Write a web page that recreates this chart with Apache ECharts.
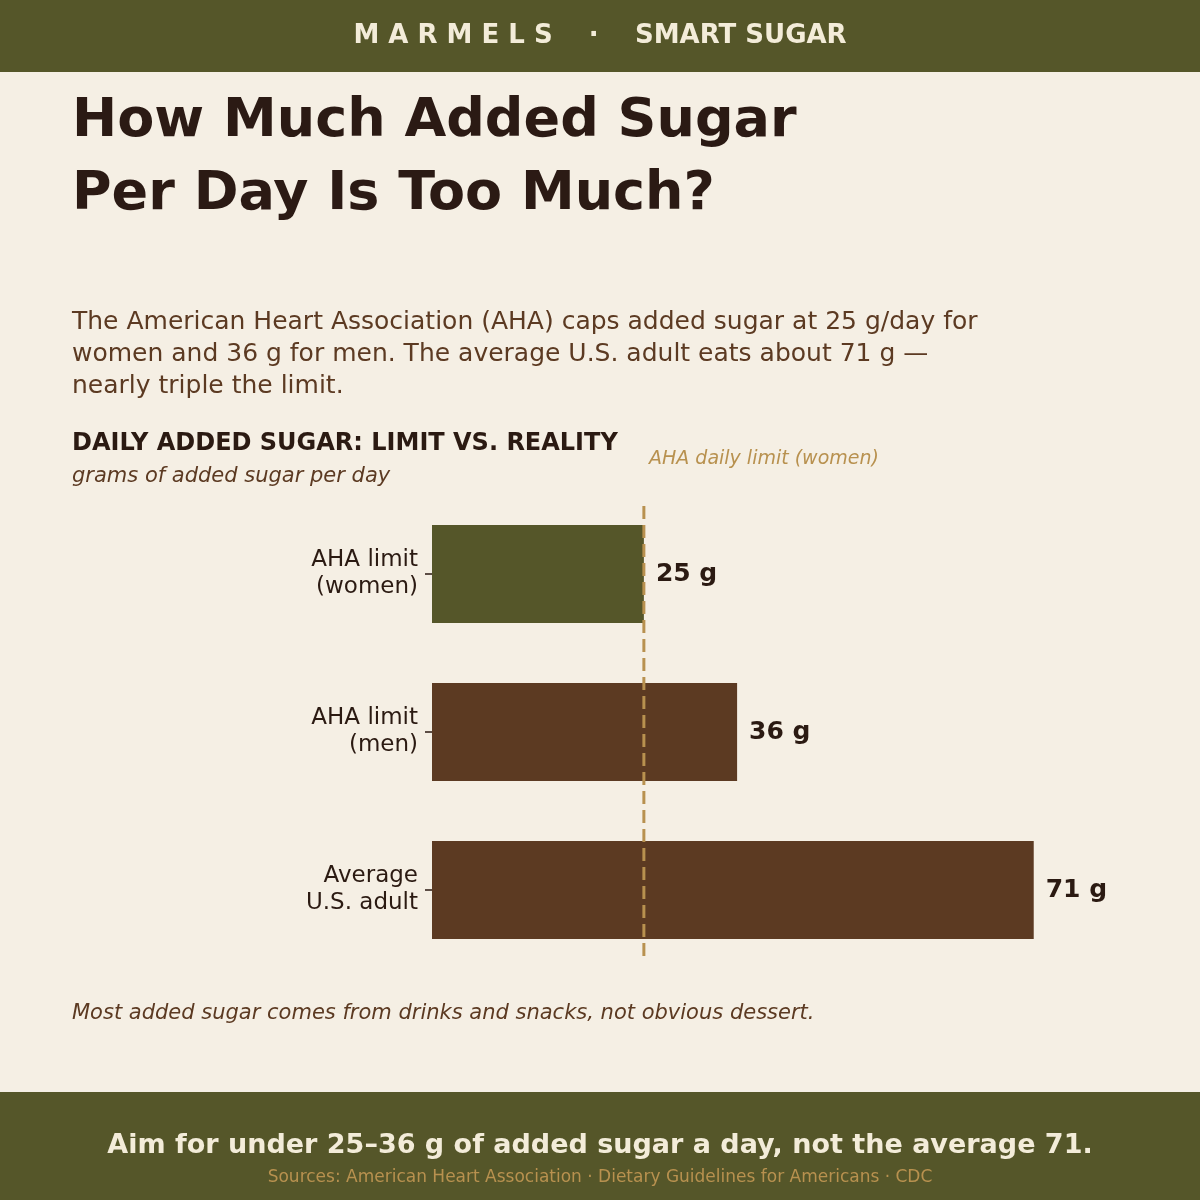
<!DOCTYPE html>
<html>
<head>
<meta charset="UTF-8">
<title>Added sugar</title>
<style>
  html, body { margin: 0; padding: 0; background: #f5efe4; }
  #main { width: 1200px; height: 1200px; }
</style>
</head>
<body>
<div id="main"></div>
<script src="https://cdn.jsdelivr.net/npm/echarts@6/dist/echarts.min.js"></script>
<script>
  var categories = ['AHA limit\n(women)', 'AHA limit\n(men)', 'Average\nU.S. adult'];
  var grams = [25, 36, 71];
  var barColors = ['#555629', '#5c3a22', '#5c3a22'];
  var limitWomen = 25;
  var limitSpan = [-0.43, 2.44];   // vertical extent of the dashed line, in category units

  var olive = '#555629', cream = '#f5efe4', ink = '#2b1a12', brown = '#5c3a22', gold = '#b8914f';
  var font = '"DejaVu Sans", sans-serif';

  var chart = echarts.init(document.getElementById('main'));

  var barData = [];
  for (var i = 0; i < grams.length; i++) {
    barData.push({ value: grams[i], itemStyle: { color: barColors[i] } });
  }

  var option = {
    backgroundColor: cream,
    animation: false,
    grid: { left: 432, right: 90, top: 495, height: 474 },
    xAxis: { type: 'value', min: 0, max: 80, show: false },
    yAxis: [{
      type: 'category',
      data: categories,
      inverse: true,
      axisLine: { show: false },
      axisTick: { show: true, length: 7, alignWithLabel: true, lineStyle: { color: ink, width: 1.5 } },
      axisLabel: { margin: 14, color: ink, fontSize: 23, fontFamily: font, lineHeight: 27, align: 'right' },
      splitLine: { show: false }
    }, {
      type: 'value', min: -0.5, max: 2.5, inverse: true, show: false
    }],
    series: [{
      type: 'bar',
      data: barData,
      barWidth: 98,
      label: {
        show: true, position: 'right', distance: 12,
        formatter: '{c} g', color: ink, fontSize: 25, fontWeight: 'bold', fontFamily: font
      },
      z: 2
    }, {
      type: 'line',
      yAxisIndex: 1,
      data: [[limitWomen, limitSpan[0]], [limitWomen, limitSpan[1]]],
      symbol: 'none',
      lineStyle: { color: gold, width: 3, type: [13, 6] },
      z: 3
    }],
    graphic: [
      { type: 'rect', shape: { x: 0, y: 0, width: 1200, height: 72 }, style: { fill: olive } },
      { type: 'text', x: 600, y: 36, style: { text: 'M A R M E L S    ·    SMART SUGAR', fill: '#f3ecd9', font: 'bold 26px ' + font, textAlign: 'center', textVerticalAlign: 'middle' } },
      { type: 'text', x: 72, y: 122, style: { text: 'How Much Added Sugar', fill: '#2b1a14', font: 'bold 54px ' + font, textVerticalAlign: 'middle' } },
      { type: 'text', x: 72, y: 195, style: { text: 'Per Day Is Too Much?', fill: '#2b1a14', font: 'bold 54px ' + font, textVerticalAlign: 'middle' } },
      { type: 'text', x: 72, y: 306, style: {
        text: 'The American Heart Association (AHA) caps added sugar at 25 g/day for\nwomen and 36 g for men. The average U.S. adult eats about 71 g \u2014\nnearly triple the limit.',
        fill: brown, font: '25px ' + font, lineHeight: 32 } },
      { type: 'text', x: 72, y: 444, style: { text: 'DAILY ADDED SUGAR: LIMIT VS. REALITY', fill: ink, font: 'bold 24px ' + font, textVerticalAlign: 'middle' } },
      { type: 'text', x: 72, y: 477, style: { text: 'grams of added sugar per day', fill: brown, font: 'italic 21px ' + font, textVerticalAlign: 'middle' } },
      { type: 'text', x: 649, y: 459, style: { text: 'AHA daily limit (women)', fill: gold, font: 'italic 19px ' + font, textVerticalAlign: 'middle' } },
      { type: 'text', x: 72, y: 1014, style: { text: 'Most added sugar comes from drinks and snacks, not obvious dessert.', fill: brown, font: 'italic 21px ' + font, textVerticalAlign: 'middle' } },
      { type: 'rect', shape: { x: 0, y: 1092, width: 1200, height: 108 }, style: { fill: olive } },
      { type: 'text', x: 600, y: 1146, style: { text: 'Aim for under 25\u201336 g of added sugar a day, not the average 71.', fill: '#f3ecd9', font: 'bold 27px ' + font, textAlign: 'center', textVerticalAlign: 'middle' } },
      { type: 'text', x: 600, y: 1178, style: { text: 'Sources: American Heart Association \u00b7 Dietary Guidelines for Americans \u00b7 CDC', fill: gold, font: '17px ' + font, textAlign: 'center', textVerticalAlign: 'middle' } }
    ]
  };
  chart.setOption(option);
</script>
</body>
</html>
